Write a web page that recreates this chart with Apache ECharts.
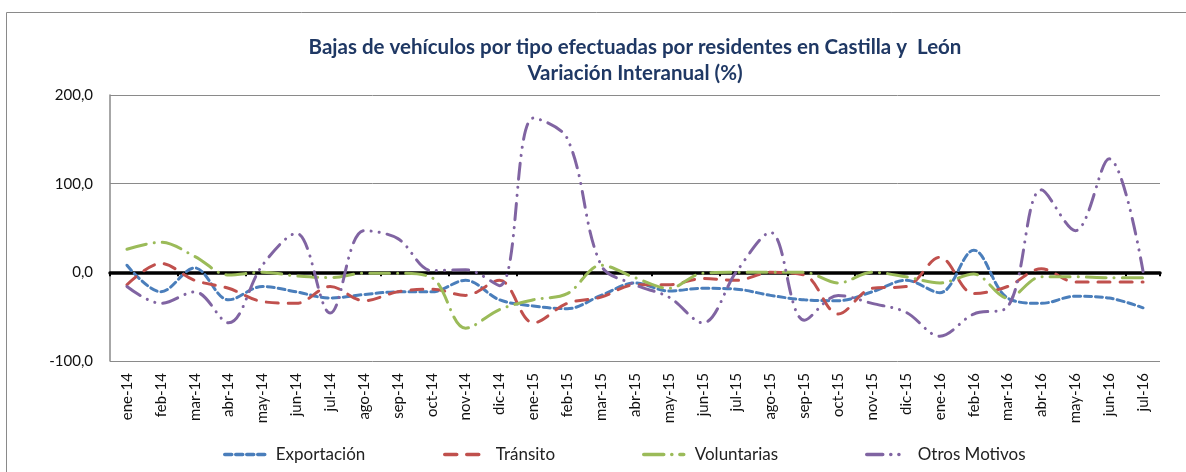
<!DOCTYPE html>
<html>
<head>
<meta charset="utf-8">
<script src="https://cdn.jsdelivr.net/npm/echarts@6/dist/echarts.min.js"></script>
<style>
  html, body { margin: 0; padding: 0; background: #fff; }
  #main { width: 1186px; height: 472px; }
</style>
</head>
<body>
<div id="main"></div>
<script>
var meses = ["ene-14","feb-14","mar-14","abr-14","may-14","jun-14","jul-14","ago-14","sep-14","oct-14","nov-14","dic-14",
  "ene-15","feb-15","mar-15","abr-15","may-15","jun-15","jul-15","ago-15","sep-15","oct-15","nov-15","dic-15",
  "ene-16","feb-16","mar-16","abr-16","may-16","jun-16","jul-16"];

var exportacion = [8,-22,5,-31,-16,-22,-29,-25,-22,-22,-9,-31,-38,-41,-26,-12,-21,-18,-19,-26,-31,-32,-22,-9,-23,25,-29,-35,-27,-29,-40];
var transito = [-14,10,-9,-18,-33,-35,-16,-32,-22,-19,-26,-9,-57,-35,-28,-14,-14,-7,-9,0,-3,-47,-18,-16,17,-24,-16,4,-11,-11,-11];
var voluntarias = [26,34,18,-3,0,-4,-6,-1,-1,-6,-63,-42,-31,-24,8,-6,-18,-1,0,0,0,-12,0,-5,-12,-2,-29,-5,-5,-6,-6];
var otrosMotivos = [-16,-35,-22,-57,8,44,-46,47,38,2,3,-15,174,151,8,-14,-28,-57,1,45,-54,-26,-35,-45,-72,-47,-39,93,47,128,1];

var nombres = ["Exportación", "Tránsito", "Voluntarias", "Otros Motivos"];
var ejeY = { min: -100, max: 200, interval: 100 };

var chartDom = document.getElementById("main");
var myChart = echarts.init(chartDom);

var fuente = "Lato, 'Liberation Sans', sans-serif";
var rejilla = { left: 110, right: 26, top: 95, bottom: 111 };

function serie(nombre, datos, color, dash) {
  return {
    name: nombre,
    type: "line",
    data: datos,
    smooth: 0.35,
    symbol: "none",
    xAxisIndex: 0,
    yAxisIndex: 0,
    lineStyle: { color: color, width: 3, type: dash, cap: "round" },
    itemStyle: { color: color }
  };
}

// una leyenda por serie para colocarlas como en el original
var posLeyenda = [218, 438, 637, 860];
var leyendas = nombres.map(function (n, i) {
  return {
    data: [n],
    left: posLeyenda[i],
    bottom: 4,
    itemWidth: 40,
    itemHeight: 14,
    itemStyle: { opacity: 0 },
    lineStyle: { width: 3.5 },
    textStyle: { fontSize: 17, color: "#222", fontFamily: fuente, padding: [0, 0, 0, 6] }
  };
});

var option = {
  backgroundColor: "#fff",
  animation: false,
  textStyle: { fontFamily: fuente },
  title: {
    text: "Bajas de vehículos por tipo efectuadas por residentes en Castilla y  León\nVariación Interanual (%)",
    left: 630,
    textAlign: "center",
    top: 29,
    textStyle: { color: "#1F3864", fontSize: 20.5, fontWeight: "bold", lineHeight: 26, fontFamily: fuente }
  },
  graphic: [{
    type: "rect",
    shape: { x: 6.5, y: 12.5, width: 1200, height: 500 },
    style: { fill: "none", stroke: "#8a8a8a", lineWidth: 1 },
    silent: true
  }],
  legend: leyendas,
  grid: [rejilla, rejilla],
  xAxis: [{
    type: "category",
    data: meses,
    gridIndex: 0,
    position: "bottom",
    axisLine: { show: false, onZero: false },
    axisTick: { show: false },
    axisLabel: { rotate: 90, fontSize: 15, color: "#111", margin: 12, fontFamily: fuente }
  }, {
    type: "category",
    data: meses,
    gridIndex: 1,
    position: "bottom",
    axisLine: { show: true, onZero: true, lineStyle: { color: "#000", width: 3.5 } },
    axisTick: { show: true, length: 4, lineStyle: { color: "#000", width: 2 } },
    axisLabel: { show: false },
    splitLine: { show: false }
  }],
  yAxis: [{
    type: "value",
    gridIndex: 0,
    min: ejeY.min,
    max: ejeY.max,
    interval: ejeY.interval,
    axisLine: { show: true, lineStyle: { color: "#8a8a8a", width: 1.5 } },
    axisTick: { show: false },
    splitLine: { lineStyle: { color: "#8a8a8a", width: 1 } },
    axisLabel: {
      fontSize: 15, color: "#111", margin: 17, fontFamily: fuente,
      formatter: function (v) { return v.toFixed(1).replace(".", ","); }
    }
  }, {
    type: "value",
    gridIndex: 1,
    min: ejeY.min,
    max: ejeY.max,
    interval: ejeY.interval,
    axisLine: { show: false },
    axisTick: { show: false },
    axisLabel: { show: false },
    splitLine: { show: false }
  }],
  series: [
    serie(nombres[0], exportacion, "#4A7EBB", [7, 4]),
    serie(nombres[1], transito, "#C0504D", [12, 10]),
    serie(nombres[2], voluntarias, "#9BBB59", [20, 8, 0.1, 8]),
    serie(nombres[3], otrosMotivos, "#8064A2", [16, 8, 0.1, 8, 0.1, 8])
  ]
};

myChart.setOption(option);
window.addEventListener("resize", function () { myChart.resize(); });
</script>
</body>
</html>
